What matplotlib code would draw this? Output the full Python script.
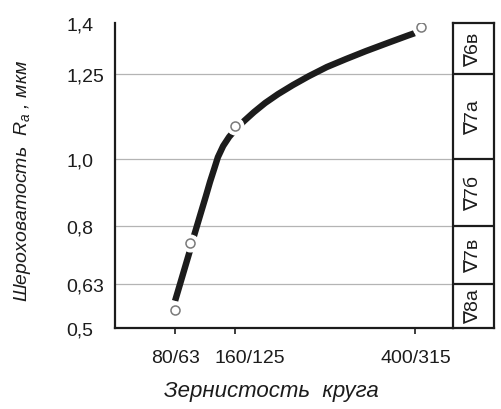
import matplotlib
matplotlib.use("Agg")
import matplotlib.pyplot as plt
from matplotlib.transforms import ScaledTranslation

# зернистость круга: положение по первому числу (мкм) и подписи
grit_ticks = [80, 160, 400]
grit_labels = ["80/63", "160/125", "400/315"]

# экспериментальные точки
grit_pts = [80, 100, 160, 408]
ra_pts = [0.553, 0.751, 1.096, 1.388]

# проведённая через точки кривая
curve_x = [80, 100, 104, 113, 121, 126.5, 132, 137, 144, 152, 161, 172,
           185, 200, 217, 237, 258, 282, 308, 334, 363, 390, 399]
curve_y = [0.580, 0.730, 0.763, 0.830, 0.889, 0.931, 0.969, 1.004, 1.037,
           1.064, 1.087, 1.111, 1.137, 1.164, 1.190, 1.217, 1.243, 1.270,
           1.294, 1.317, 1.341, 1.363, 1.370]

ra_ticks = [0.5, 0.63, 0.8, 1.0, 1.25, 1.4]
ra_labels = ["0,5", "0,63", "0,8", "1,0", "1,25", "1,4"]
ra_grid = [0.63, 0.8, 1.0, 1.25]

# классы чистоты поверхности
class_edges = [0.5, 0.63, 0.8, 1.0, 1.25, 1.4]
class_names = ["∇8а", "∇7в", "∇7б", "∇7а", "∇6в"]

fam = ["Liberation Sans", "DejaVu Sans"]
plt.rcParams["font.family"] = fam
plt.rcParams["mathtext.fontset"] = "custom"
plt.rcParams["mathtext.it"] = "Liberation Sans:italic"
plt.rcParams["mathtext.rm"] = "Liberation Sans"

ink = "#1c1c1c"

fig = plt.figure(figsize=(5.01, 4.10), dpi=100)
ax = fig.add_axes([0.2295, 0.1976, 0.6747, 0.7439])
tab = fig.add_axes([0.904, 0.1976, 0.0818, 0.7439])

ax.set_xlim(0, 450)
ax.set_ylim(0.5, 1.4)
for s in ["top", "right"]:
    ax.spines[s].set_visible(False)
for s in ["left", "bottom"]:
    ax.spines[s].set_linewidth(1.6)
    ax.spines[s].set_color(ink)

for v in ra_grid:
    ax.axhline(v, color="#b4b4b4", lw=0.9, zorder=1)

ax.plot(curve_x, curve_y, color=ink, lw=4.6, solid_capstyle="butt",
        solid_joinstyle="round", zorder=2)
# белый ободок вокруг точек разрывает линию
ax.plot(grit_pts, ra_pts, "o", ms=12, mfc="white", mec="white", zorder=3)
ax.plot(grit_pts, ra_pts, "o", ms=6.5, mfc="white", mec="#7a7a7a", mew=1.1, zorder=4)

ax.set_xticks(grit_ticks, grit_labels)
ax.tick_params(axis="x", length=4, width=1.2, color=ink, pad=11, labelsize=14,
               labelcolor=ink)
# подпись 160/125 сдвинута вправо, чтобы не наезжать на 80/63
lab = ax.get_xticklabels()[1]
lab.set_transform(lab.get_transform() + ScaledTranslation(0.15, 0, fig.dpi_scale_trans))

ax.set_yticks(ra_ticks, ra_labels)
ax.tick_params(axis="y", length=0, pad=35, labelsize=14, labelcolor=ink)
for lab in ax.get_yticklabels():
    lab.set_horizontalalignment("left")

fig.text(0.542, 0.044, "Зернистость  круга", ha="center", va="center",
         fontsize=16, style="italic", color=ink)
fig.text(0.044, 0.558, "Шероховатость  $R_a$ , мкм", ha="center", va="center",
         rotation=90, fontsize=14, style="italic", color=ink)

# таблица классов шероховатости справа
tab.set_xlim(0, 1)
tab.set_ylim(0.5, 1.4)
tab.set_xticks([])
tab.set_yticks([])
for s in tab.spines.values():
    s.set_linewidth(1.6)
    s.set_color(ink)
for v in class_edges[1:-1]:
    tab.axhline(v, color=ink, lw=1.6)
for lo, hi, name in zip(class_edges[:-1], class_edges[1:], class_names):
    tab.text(0.5, (lo + hi) / 2, name, rotation=90, ha="center", va="center",
             fontsize=14, color=ink, family=fam)

fig.savefig("out.png", dpi=100)
